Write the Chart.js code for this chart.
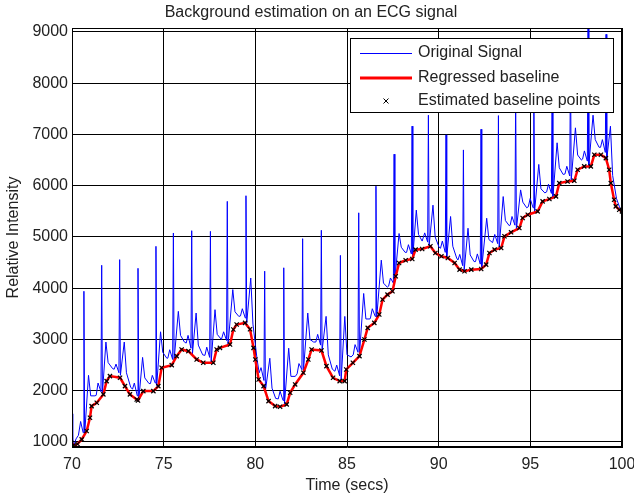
<!DOCTYPE html>
<html>
<head>
<meta charset="utf-8">
<title>Background estimation on an ECG signal</title>
<script src="https://cdn.jsdelivr.net/npm/chart.js@4.4.1/dist/chart.umd.min.js"></script>
<style>
  html, body { margin: 0; padding: 0; background: #fff; }
  canvas { display: block; }
</style>
</head>
<body>
<canvas id="ecgChart" width="634" height="499"></canvas>
<script>
const xTicks = [70, 75, 80, 85, 90, 95, 100];
const yTicks = [1000, 2000, 3000, 4000, 5000, 6000, 7000, 8000, 9000];
const legendLabels = ['Original Signal', 'Regressed baseline', 'Estimated baseline points'];

// raw ECG trace, [time (s), intensity], one line per heart beat
const signal = [
  [70.00,1550],[70.04,1000],[70.12,950],[70.22,1060],[70.35,1130],[70.47,1400],[70.61,1180],[70.65,3941],[70.69,1150],[70.90,2300],[71.02,1900],[71.25,1900],
  [71.32,1910],[71.42,2150],[71.58,1980],[71.62,4448],[71.66,1950],[71.85,2950],[71.97,2550],[72.22,2430],
  [72.30,2420],[72.40,2520],[72.56,2350],[72.60,4558],[72.64,2300],[72.85,2950],[72.97,2350],[73.20,2070],
  [73.30,2030],[73.40,2150],[73.56,1900],[73.60,4389],[73.64,1810],[73.85,2650],[73.97,2250],[74.20,2140],
  [74.28,2140],[74.38,2300],[74.54,2150],[74.58,4818],[74.62,2100],[74.83,3150],[74.95,2750],[75.18,2630],
  [75.23,2640],[75.33,2800],[75.49,2610],[75.53,5078],[75.57,2600],[75.80,3549],[75.92,3080],[76.13,2950],
  [76.23,2930],[76.33,3080],[76.49,2830],[76.53,5123],[76.57,2720],[76.77,3516],[76.89,2890],[77.13,2700],
  [77.25,2690],[77.35,2850],[77.51,2650],[77.55,5110],[77.59,2560],[77.80,3582],[77.92,3100],[78.15,3000],
  [78.17,3000],[78.27,3150],[78.43,2980],[78.47,5695],[78.51,2900],[78.77,3974],[78.89,3540],[79.10,3450],
  [79.19,3460],[79.29,3600],[79.45,3420],[79.49,5805],[79.53,3320],[79.75,4200],[79.87,3300],[80.10,2600],
  [80.21,2350],[80.31,2450],[80.47,2200],[80.51,4333],[80.55,2000],[80.79,2634],[80.91,2050],[81.11,1850],
  [81.25,1840],[81.35,1990],[81.51,1810],[81.55,4399],[81.59,1740],[81.82,2830],[81.94,2280],[82.18,2280],
  [82.28,2330],[82.38,2530],[82.54,2410],[82.58,4967],[82.62,2370],[82.86,3516],[82.98,3000],[83.18,2950],
  [83.30,2950],[83.40,3100],[83.56,2890],[83.60,5131],[83.64,2780],[83.86,3451],[83.98,2700],[84.20,2420],
  [84.34,2380],[84.44,2500],[84.60,2290],[84.64,4641],[84.68,2200],[84.88,3450],[85.00,2700],[85.22,2660],
  [85.34,2700],[85.44,2900],[85.60,2750],[85.64,5472],[85.68,2700],[85.91,3898],[86.03,3400],[86.25,3400],
  [86.28,3420],[86.38,3600],[86.54,3450],[86.58,5992],[86.62,3420],[86.87,4548],[86.99,4100],[87.20,4020],
  [87.27,4040],[87.37,4200],[87.53,4100],[87.57,6616],[87.61,4170],[87.84,5068],[87.96,4800],[88.17,4700],
  [88.25,4700],[88.35,4850],[88.51,4670],[88.55,7163],[88.59,4620],[88.78,5524],[88.90,5050],[89.10,4920],
  [89.14,4920],[89.24,5080],[89.40,4900],[89.44,7377],[89.48,4830],[89.69,5621],[89.81,5000],[90.02,4800],
  [90.10,4780],[90.20,4920],[90.36,4700],[90.40,6992],[90.44,4600],[90.65,5400],[90.77,4820],[90.98,4590],
  [91.05,4550],[91.15,4660],[91.31,4440],[91.35,6699],[91.39,4340],[91.60,5171],[91.72,4650],[91.93,4520],
  [92.01,4520],[92.11,4670],[92.27,4470],[92.31,7102],[92.35,4400],[92.62,5366],[92.74,4950],[92.94,4890],
  [92.96,4890],[93.06,5050],[93.22,4870],[93.26,7369],[93.30,4790],[93.52,5789],[93.64,5320],[93.85,5220],
  [93.90,5230],[94.00,5400],[94.16,5230],[94.20,7800],[94.24,5150],[94.47,5919],[94.59,5680],[94.80,5570],
  [94.89,5590],[94.99,5750],[95.15,5570],[95.19,8000],[95.23,5490],[95.46,6416],[95.58,5940],[95.79,5860],
  [95.89,5880],[95.99,6030],[96.15,5850],[96.19,8300],[96.23,5770],[96.46,6838],[96.58,6350],[96.79,6220],
  [96.89,6230],[96.99,6380],[97.15,6190],[97.19,8500],[97.23,6100],[97.46,7130],[97.58,6600],[97.79,6500],
  [97.85,6520],[97.95,6680],[98.11,6480],[98.15,9300],[98.19,6390],[98.42,7377],[98.54,6900],[98.75,6750],
  [98.83,6750],[98.93,6900],[99.09,6650],[99.13,8955],[99.17,6520],[99.37,7162],[99.49,6200],[99.70,5750],[99.85,5600],[100.00,5450]
];

// regressed baseline, [time (s), intensity]; also used for the estimated points
const baseline = [
  [70.00,980],[70.10,930],[70.30,960],[70.53,1050],[70.80,1214],[70.98,1473],[71.07,1700],[71.35,1766],
  [71.71,1928],[71.89,2188],[72.07,2285],[72.62,2253],[72.89,2090],[73.16,1928],[73.53,1830],[73.60,1810],
  [73.89,1993],[74.44,1993],[74.71,2090],[74.89,2448],[75.44,2500],[75.71,2675],[75.98,2805],[76.35,2772],
  [76.80,2610],[77.16,2545],[77.71,2545],[77.89,2805],[78.07,2837],[78.62,2902],[78.80,3195],[78.98,3292],
  [79.44,3324],[79.71,3200],[79.90,2837],[80.00,2610],[80.18,2220],[80.45,2090],[80.72,1798],[81.08,1700],
  [81.35,1688],[81.71,1733],[81.90,1960],[82.17,2123],[82.62,2350],[82.89,2610],[83.07,2805],[83.61,2785],
  [83.88,2480],[84.24,2253],[84.60,2188],[84.87,2188],[84.96,2415],[85.32,2545],[85.68,2675],[85.95,3000],
  [86.13,3227],[86.49,3324],[86.76,3487],[86.94,3779],[87.21,3876],[87.48,3941],[87.66,4234],[87.84,4493],
  [88.20,4545],[88.56,4571],[88.74,4753],[89.10,4766],[89.55,4818],[89.82,4688],[90.15,4623],[90.50,4590],
  [90.87,4493],[91.14,4363],[91.41,4331],[91.78,4363],[92.32,4376],[92.59,4461],[92.77,4688],[93.05,4753],
  [93.41,4785],[93.59,5013],[93.95,5091],[94.40,5175],[94.58,5370],[94.86,5435],[95.40,5500],[95.67,5695],
  [96.04,5740],[96.40,5792],[96.58,6052],[97.03,6084],[97.40,6097],[97.58,6312],[97.94,6377],[98.30,6377],
  [98.49,6604],[98.85,6604],[99.12,6539],[99.30,6312],[99.39,6052],[99.57,5727],[99.66,5597],[99.85,5532],
  [100.00,5500]
];

const toXY = pts => pts.map(([x, y]) => ({ x, y }));

// black box round the plot (top and right edges are not axes in Chart.js)
const framePlugin = {
  id: 'frame',
  afterDatasetsDraw(chart) {
    const { ctx, chartArea: a } = chart;
    ctx.save();
    ctx.strokeStyle = '#000';
    ctx.lineWidth = 1;
    ctx.strokeRect(Math.round(a.left) + 0.5, Math.round(a.top) + 0.5, Math.round(a.width) - 1, Math.round(a.height) - 1);
    ctx.restore();
  }
};

// boxed legend in the top right corner, drawn over the trace
const boxLegendPlugin = {
  id: 'boxLegend',
  afterDraw(chart) {
    const { ctx, chartArea: a } = chart;
    const left = a.right - 272, top = a.top + 10, w = 263, h = 74;
    ctx.save();
    ctx.fillStyle = '#fff';
    ctx.fillRect(left, top, w, h);
    ctx.strokeStyle = '#000';
    ctx.lineWidth = 1;
    ctx.strokeRect(left + 0.5, top + 0.5, w, h);

    const rows = [top + 15, top + 40, top + 63];
    ctx.strokeStyle = '#0000ff';
    ctx.lineWidth = 1;
    ctx.beginPath(); ctx.moveTo(left + 10, rows[0] + 0.5); ctx.lineTo(left + 62, rows[0] + 0.5); ctx.stroke();
    ctx.strokeStyle = '#ff0000';
    ctx.lineWidth = 3;
    ctx.beginPath(); ctx.moveTo(left + 10, rows[1]); ctx.lineTo(left + 62, rows[1]); ctx.stroke();
    const cx = left + 36, cy = rows[2];
    ctx.strokeStyle = '#000';
    ctx.lineWidth = 1;
    ctx.beginPath();
    ctx.moveTo(cx - 2.5, cy - 2.5); ctx.lineTo(cx + 2.5, cy + 2.5);
    ctx.moveTo(cx + 2.5, cy - 2.5); ctx.lineTo(cx - 2.5, cy + 2.5);
    ctx.stroke();

    ctx.fillStyle = '#222';
    ctx.font = "16px 'Liberation Sans', Arial, sans-serif";
    ctx.textBaseline = 'middle';
    legendLabels.forEach((txt, i) => ctx.fillText(txt, left + 68, rows[i]));
    ctx.restore();
  }
};

function initChart() {
  Chart.defaults.font.family = "'Liberation Sans', Arial, sans-serif";
  Chart.defaults.font.size = 16;
  Chart.defaults.color = '#222';

  new Chart(document.getElementById('ecgChart'), {
    type: 'scatter',
    data: {
      datasets: [
        { label: legendLabels[0], data: toXY(signal), showLine: true, borderColor: '#0000ff', borderWidth: 1, pointRadius: 0, order: 3 },
        { label: legendLabels[1], data: toXY(baseline), showLine: true, borderColor: '#ff0000', borderWidth: 2.5, pointRadius: 0, order: 2 },
        { label: legendLabels[2], data: toXY(baseline), showLine: false, pointStyle: 'crossRot', pointRadius: 3,
          borderColor: '#000', borderWidth: 1.2, backgroundColor: '#000', order: 1 }
      ]
    },
    options: {
      responsive: false, animation: false, devicePixelRatio: 1,
      layout: { padding: { left: 0, right: 12, top: 0, bottom: 0 } },
      plugins: {
        legend: { display: false },
        tooltip: { enabled: false },
        title: { display: true, text: 'Background estimation on an ECG signal', color: '#222',
                 font: { size: 16, weight: 'normal' }, padding: { top: 3.4, bottom: 5.4 } }
      },
      scales: {
        x: {
          type: 'linear', min: 70, max: 100,
          afterBuildTicks: s => { s.ticks = xTicks.map(v => ({ value: v })); },
          afterFit: s => { s.height = 52; s.paddingLeft = 0; s.paddingRight = 0; },
          grid: { color: '#000', lineWidth: 1, drawTicks: false },
          border: { display: true, color: '#000' },
          ticks: { padding: 8, maxRotation: 0, callback: v => String(v) },
          title: { display: true, text: 'Time (secs)', padding: { top: 0, bottom: 3.4 } }
        },
        y: {
          type: 'linear', min: 902, max: 9078,
          afterBuildTicks: s => { s.ticks = yTicks.map(v => ({ value: v })); },
          afterFit: s => { s.width = 72; s.paddingTop = 0; s.paddingBottom = 0; },
          grid: { color: '#000', lineWidth: 1, drawTicks: false },
          border: { display: true, color: '#000' },
          ticks: { padding: 4, callback: v => String(v) },
          title: { display: true, text: 'Relative Intensity', padding: { top: 4.4, bottom: 0 } }
        }
      }
    },
    plugins: [framePlugin, boxLegendPlugin]
  });
}

document.addEventListener('DOMContentLoaded', initChart);
</script>
</body>
</html>
